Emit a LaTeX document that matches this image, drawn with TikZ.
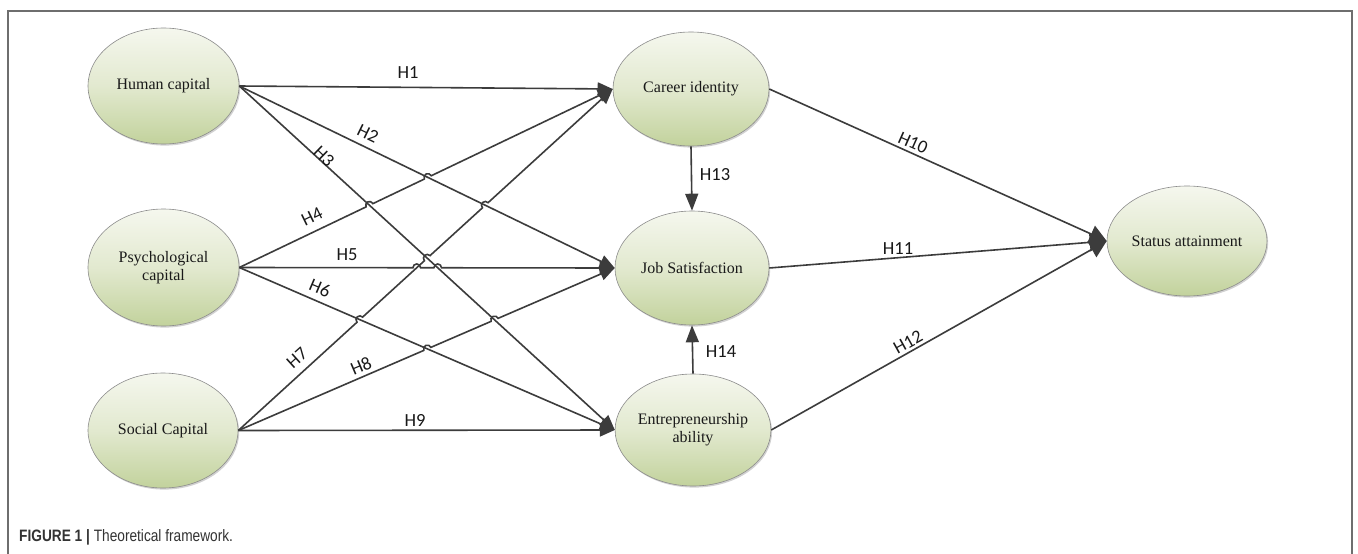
\documentclass[tikz,border=0pt]{standalone}
\usepackage{fontspec}
\setmainfont{Liberation Serif}
\newfontfamily\labfont{Carlito}
\newfontfamily\capfont{Liberation Sans}
\usetikzlibrary{shapes.geometric,arrows.meta,calc,intersections,shadows}
\definecolor{linec}{HTML}{3C3C3C}
\definecolor{ftop}{HTML}{F5F7EE}
\definecolor{fmid}{HTML}{E2E9CF}
\definecolor{fbot}{HTML}{C2D29C}
\definecolor{framec}{HTML}{6E6E6E}
\definecolor{capc}{HTML}{333333}
\begin{document}
\begin{tikzpicture}[x=1pt,y=-1pt,
  latent/.style={ellipse, draw=black!45, line width=0.6pt,
    top color=ftop, bottom color=fbot, middle color=fmid,
    inner sep=0pt, align=center, text=black!90,
    font=\fontsize{16}{18}\selectfont,
    drop shadow={shadow xshift=1.2pt, shadow yshift=-1.6pt, opacity=0.18, fill=black}},
  conn/.style={draw=linec, line width=1.6pt, -{Triangle[length=15pt,width=13pt]}},
  bigconn/.style={draw=linec, line width=1.6pt, -{Triangle[length=17pt,width=18pt]}},
  vconn/.style={draw=linec, line width=1.6pt, -{Triangle[length=17pt,width=13pt]}},
  hl/.style={font=\labfont\fontsize{18.5}{20}\selectfont, text=black!90, inner sep=0pt}
]
\useasboundingbox (0,0) rectangle (1358,554);
\fill[white] (0,0) rectangle (1358,554);
\draw[framec, line width=1.3pt] (8,554) -- (8,11) -- (1352,11) -- (1352,554);

% latent variables
\node[latent, minimum width=151pt, minimum height=116pt] (HC) at (163.5,86) {Human capital};
\node[latent, minimum width=151pt, minimum height=117pt] (PC) at (163.5,267.5) {Psychological\\capital};
\node[latent, minimum width=150pt, minimum height=115pt] (SC) at (163,430.5) {Social Capital};
\node[latent, minimum width=156pt, minimum height=114pt] (CI) at (691,89) {Career identity};
\node[latent, minimum width=154pt, minimum height=114pt] (JS) at (692,268) {Job Satisfaction};
\node[latent, minimum width=152pt, minimum height=112pt] (EA) at (693,430) {Entrepreneurship\\ability};
\node[latent, minimum width=160pt, minimum height=110pt] (SA) at (1187,241) {Status attainment};

% paths for crossings
\path[name path=p2] (HC.east) -- (JS.west);
\path[name path=p3] (HC.east) -- (EA.west);
\path[name path=p4] (PC.east) -- (CI.west);
\path[name path=p5] (PC.east) -- (JS.west);
\path[name path=p6] (PC.east) -- (EA.west);
\path[name path=p7] (SC.east) -- (CI.west);
\path[name path=p8] (SC.east) -- (JS.west);
\path[name intersections={of=p2 and p4, by=i24}];
\path[name intersections={of=p3 and p4, by=i34}];
\path[name intersections={of=p2 and p7, by=i27}];
\path[name intersections={of=p3 and p7, by=i37}];
\path[name intersections={of=p6 and p7, by=i67}];
\path[name intersections={of=p6 and p8, by=i68}];
\path[name intersections={of=p3 and p8, by=i38}];
\path[name intersections={of=p5 and p7, by=i57}];
\path[name intersections={of=p3 and p5, by=i35}];
\def\hr{3.8pt}

% plain connectors
\draw[conn] (HC.east) -- (CI.west);
\draw[conn] (HC.east) -- (JS.west);
\draw[conn] (HC.east) -- (EA.west);
\draw[conn] (PC.east) -- (EA.west);
\draw[conn] (SC.east) -- (EA.west);

% connectors with line hops
\draw[conn] let \p1=($(CI.west)-(PC.east)$), \n1={atan2(\y1,\x1)} in
  (PC.east) -- ($(i34)!\hr!(PC.east)$) arc[start angle=\n1+180, delta angle=-180, radius=\hr]
  -- ($(i24)!\hr!(PC.east)$) arc[start angle=\n1+180, delta angle=-180, radius=\hr]
  -- (CI.west);
\draw[conn] let \p1=($(CI.west)-(SC.east)$), \n1={atan2(\y1,\x1)} in
  (SC.east) -- ($(i67)!\hr!(SC.east)$) arc[start angle=\n1+180, delta angle=-180, radius=\hr]
  -- ($(i37)!\hr!(SC.east)$) arc[start angle=\n1+180, delta angle=-180, radius=\hr]
  -- ($(i27)!\hr!(SC.east)$) arc[start angle=\n1+180, delta angle=-180, radius=\hr]
  -- (CI.west);
\draw[conn] let \p1=($(JS.west)-(SC.east)$), \n1={atan2(\y1,\x1)} in
  (SC.east) -- ($(i68)!\hr!(SC.east)$) arc[start angle=\n1+180, delta angle=-180, radius=\hr]
  -- ($(i38)!\hr!(SC.east)$) arc[start angle=\n1+180, delta angle=-180, radius=\hr]
  -- (JS.west);
\draw[conn] let \p1=($(JS.west)-(PC.east)$), \n1={atan2(\y1,\x1)} in
  (PC.east) -- ($(i57)!\hr!(PC.east)$) arc[start angle=\n1+180, delta angle=-180, radius=\hr]
  -- ($(i35)!\hr!(PC.east)$) arc[start angle=\n1+180, delta angle=-180, radius=\hr]
  -- (JS.west);

% right side
\draw[bigconn] (CI.east) -- (SA.west);
\draw[bigconn] (JS.east) -- (SA.west);
\draw[bigconn] (EA.east) -- (SA.west);
\draw[vconn] (CI.south) -- (JS.north);
\draw[vconn] (EA.north) -- (JS.south);

% labels
\node[hl] (l1) at (408,73) {H1};
\node[hl, rotate=-26] (l2) at (368,134) {H2};
\node[hl, rotate=-44] (l3) at (324,156) {H3};
\node[hl, rotate=26] (l4) at (312,217) {H4};
\node[hl] (l5) at (347,255) {H5};
\node[hl, rotate=-23] (l6) at (320,288) {H6};
\node[hl, rotate=42] (l7) at (297,358) {H7};
\node[hl, rotate=23] (l8) at (361,366) {H8};
\node[hl] (l9) at (415,420) {H9};
\node[hl, rotate=-24] (l10) at (913,143) {H10};
\node[hl] (l11) at (898,249) {H11};
\node[hl, rotate=29] (l12) at (908,342) {H12};
\node[hl] (l13) at (715,175) {H13};
\node[hl] (l14) at (721,352) {H14};

% caption
\node[anchor=west, inner sep=0pt, text=capc] (cap) at (19,537)
  {\scalebox{0.83}[1]{\capfont\fontsize{16.5}{18}\selectfont\textbf{FIGURE 1 |} Theoretical framework.}};
\end{tikzpicture}
\end{document}
